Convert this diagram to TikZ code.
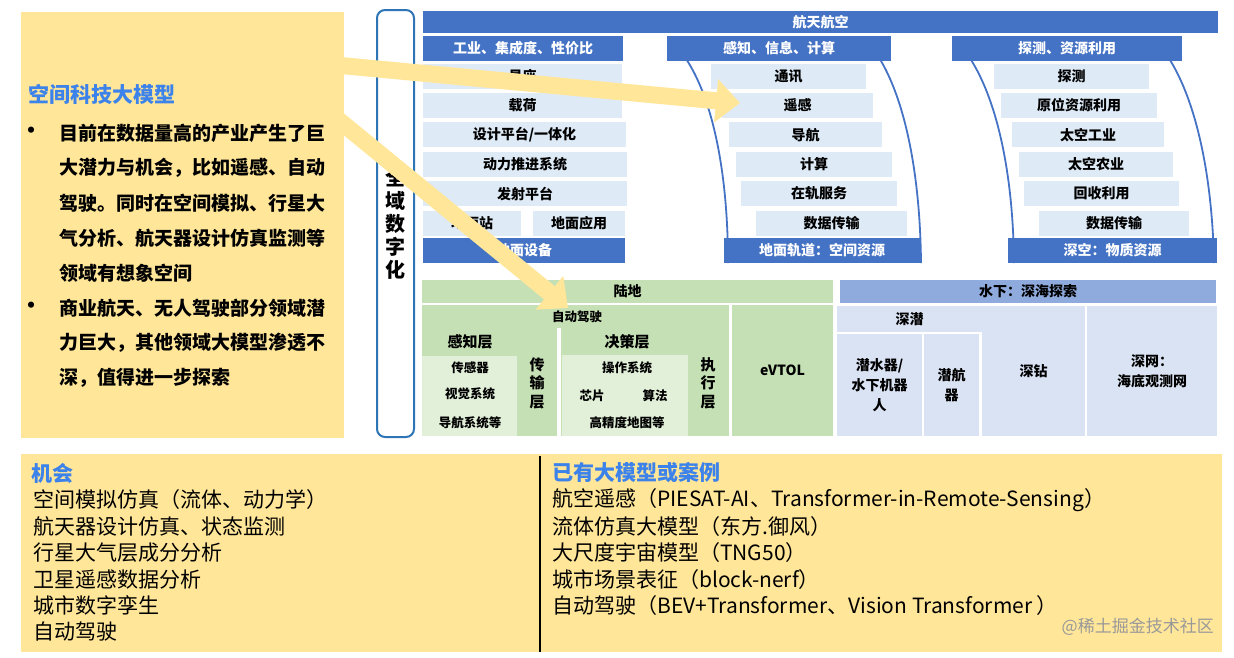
\documentclass[tikz,border=0pt]{standalone}
\usepackage{fontspec}
\setmainfont{Noto Sans CJK SC}
\usetikzlibrary{arrows.meta,positioning}
\definecolor{yl}{RGB}{255,230,153}
\definecolor{db}{RGB}{68,114,196}
\definecolor{lb}{RGB}{222,235,247}
\definecolor{gr}{RGB}{197,224,180}
\definecolor{lg}{RGB}{226,240,217}
\definecolor{mb}{RGB}{143,170,220}
\definecolor{ub}{RGB}{218,227,243}
\definecolor{bd}{RGB}{46,117,182}
\definecolor{tb}{RGB}{60,130,235}
\begin{document}
\begin{tikzpicture}[x=1pt,y=-1pt,
 bx/.style={fill=lb, inner sep=0, minimum height=25, font=\bfseries\fontsize{14}{16}\selectfont},
 hd/.style={fill=db, text=white, inner sep=0, minimum height=25, font=\bfseries\fontsize{14}{16}\selectfont},
 gbox/.style={fill=gr, inner sep=0, font=\bfseries\fontsize{14}{16}\selectfont},
 lbox/.style={fill=lg, inner sep=0},
 ubox/.style={fill=ub, inner sep=0, align=center, font=\bfseries\fontsize{14}{20}\selectfont},
 sm/.style={inner sep=0, font=\bfseries\fontsize{12.5}{14}\selectfont},
 lay/.style={inner sep=0, font=\bfseries\fontsize{15}{17}\selectfont},
 vlay/.style={inner sep=0, align=center, font=\bfseries\fontsize{15}{18.5}\selectfont},
 lt/.style={inner sep=0, anchor=west, font=\bfseries\fontsize{19}{21}\selectfont},
 bt/.style={inner sep=0, anchor=west, font=\fontsize{21}{23}\selectfont},
 ttl/.style={inner sep=0, anchor=west, text=tb, font=\bfseries\fontsize{21}{23}\selectfont},
 arc/.style={draw=db, line width=1.8pt},
 bigarr/.style={draw=yl, line width=17pt, -{Triangle[width=42pt,length=24pt]}}]
\useasboundingbox (0,0) rectangle (1234,657);

\node[fill=yl, inner sep=0, minimum width=323, minimum height=426] (pan) at (182.5,225) {};
\node[ttl] (kj) at (28,94) {空间科技大模型};
\foreach \y in {133,308} \node[inner sep=0, font=\bfseries\fontsize{22}{22}\selectfont] at (31,\y) {•};
\foreach \t [count=\i] in {目前在数据量高的产业产生了巨,大潜力与机会，比如遥感、自动,驾驶。同时在空间模拟、行星大,气分析、航天器设计仿真监测等,领域有想象空间,商业航天、无人驾驶部分领域潜,力巨大，其他领域大模型渗透不,深，值得进一步探索}
  \node[lt] (p\i) at (59,{133+35*(\i-1)}) {\t};

\node[draw=bd, line width=2pt, fill=white, rounded corners=8pt, minimum width=37, minimum height=427] (qy) at (395.5,223.5) {};
\node[vlay, font=\bfseries\fontsize{20}{23}\selectfont] at (qy) {全\\域\\数\\字\\化};

\node[hd, minimum width=795, minimum height=22] (top) at (820.5,22) {航天航空};
\draw[arc] (668,38) .. controls (708,72) and (728,160) .. (728,263);
\draw[arc] (864,38) .. controls (900,75) and (920,160) .. (921,263);
\draw[arc] (953,37) .. controls (992,75) and (1013,160) .. (1014,263);
\draw[arc] (1153,38) .. controls (1190,75) and (1212,160) .. (1214,263);
\node[hd, minimum width=200] (h1) at (523,48) {工业、集成度、性价比};
\node[hd, minimum width=224] (h2) at (779,48) {感知、信息、计算};
\node[hd, minimum width=230] (h3) at (1067,48.5) {探测、资源利用};

\foreach \xa/\xb/\t [count=\i] in {423/622/星座,423/622/载荷,423/626/{设计平台/一体化},423/627/动力推进系统,423/627/发射平台}
  \node[bx, minimum width={\xb-\xa}] (l\i) at ({(\xa+\xb)/2},{76+29.4*(\i-1)}) {\t};
\node[bx, minimum width=98] (l6) at (472,223) {地面站};
\node[bx, minimum width=92] (l7) at (579,223) {地面应用};
\node[hd, minimum width=202] (lbar) at (524,250.5) {地面设备};

\foreach \xa/\xb/\t [count=\i] in {711/866/通讯,722/873/遥感,729/882/导航,736/892/计算,741/897/在轨服务,756/907/数据传输}
  \node[bx, minimum width={\xb-\xa}] (m\i) at ({(\xa+\xb)/2},{76+29.4*(\i-1)}) {\t};
\node[hd, minimum width=196] (mbar) at (822,250.5) {地面轨道：空间资源};

\foreach \xa/\xb/\t [count=\i] in {994/1149/探测,1001/1157/原位资源利用,1012/1164/太空工业,1019/1173/太空农业,1024/1179/回收利用,1039/1189/数据传输}
  \node[bx, minimum width={\xb-\xa}] (r\i) at ({(\xa+\xb)/2},{76+29.4*(\i-1)}) {\t};
\node[hd, minimum width=209] (rbar) at (1112.5,250.5) {深空：物质资源};

\node[gbox, minimum width=411, minimum height=23] (ld) at (627.5,291.5) {陆地};
\node[gbox, minimum width=307, minimum height=131] (ad) at (575.5,370.5) {};
\node[gbox, minimum width=101, minimum height=131] (ev) at (782.5,370.5) {eVTOL};
\draw[white, line width=4pt] (559,328) -- (559,436);
\node[sm] (zd) at (577,317) {自动驾驶};
\node[lay] (gz) at (470,342) {感知层};
\node[lbox, minimum width=95, minimum height=80] (gb) at (469.5,396) {};
\foreach \t/\y in {传感器/368,视觉系统/394,导航系统等/423} \node[sm] at (470,\y) {\t};
\node[vlay] (cs) at (537,383) {传\\输\\层};
\node[lay] (jc) at (627,342) {决策层};
\node[lbox, minimum width=126, minimum height=81] (jb) at (625,395.5) {};
\node[sm] (c1) at (627,368) {操作系统};
\node[sm] (c2) at (592,396) {芯片};
\node[sm] (c3) at (655,396) {算法};
\node[sm] (c4) at (627,423) {高精度地图等};
\node[vlay] (zx) at (708,383) {执\\行\\层};

\node[ubox, fill=mb, minimum width=376, minimum height=23] (sx) at (1028,291.5) {水下：深海探索};
\node[ubox, minimum width=145, minimum height=26] (sq) at (909.5,319) {深潜};
\node[ubox, minimum width=85, minimum height=102] (qs) at (879.5,385) {潜水器/\\水下机器\\人};
\node[ubox, minimum width=55, minimum height=102] (qh) at (951.5,385) {潜航\\器};
\node[ubox, minimum width=103, minimum height=130] (sz) at (1033.5,371) {深钻};
\node[ubox, minimum width=130, minimum height=130] (sw) at (1152,371) {深网：\\海底观测网};

\node[fill=yl, inner sep=0, minimum width=1201, minimum height=198] (bot) at (621.5,553) {};
\draw[black, line width=2pt] (539.5,456) -- (539.5,652);
\node[ttl] (jh) at (31,473) {机会};
\foreach \t [count=\i] in {空间模拟仿真（流体、动力学）,航天器设计仿真、状态监测,行星大气层成分分析,卫星遥感数据分析,城市数字孪生,自动驾驶}
  \node[bt] (o\i) at (33,{500+26.4*(\i-1)}) {\t};
\node[ttl] (al) at (552,473) {已有大模型或案例};
\foreach \t [count=\i] in {航空遥感（PIESAT-AI、Transformer-in-Remote-Sensing）,流体仿真大模型（东方.御风）,大尺度宇宙模型（TNG50）,城市场景表征（block-nerf）,自动驾驶（BEV+Transformer、Vision Transformer ）}
  \node[bt] (e\i) at (552,{500+26.4*(\i-1)}) {\t};
\node[inner sep=0, anchor=east, text=black!40, font=\fontsize{17}{18}\selectfont] (wm) at (1214,627) {@稀土掘金技术社区};

\coordinate (a1) at (330,64.5);
\coordinate (t1) at (740,103);
\coordinate (a2) at (330,113);
\coordinate (t2) at (568,308);
\draw[bigarr] (a1) -- (t1);
\draw[bigarr] (a2) -- (t2);
\end{tikzpicture}
\end{document}
